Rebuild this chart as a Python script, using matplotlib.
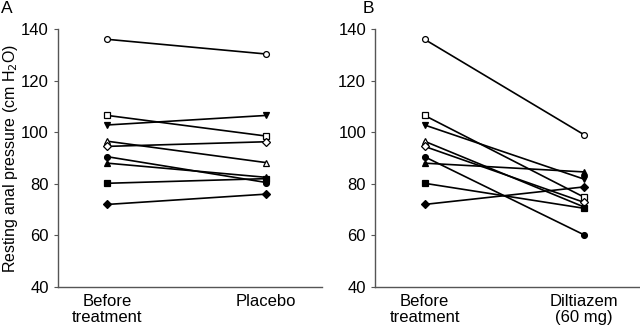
import matplotlib
matplotlib.use("Agg")
import matplotlib.pyplot as plt

plt.rcParams["font.family"] = ["Liberation Sans", "DejaVu Sans"]

# marker per subject: (marker, filled)
markers = [("o", False), ("s", False), ("v", True), ("^", False), ("D", False),
           ("o", True), ("^", True), ("s", True), ("D", True)]
before = [136, 106.5, 102.8, 96.5, 94.5, 90.5, 88, 80.2, 72]
placebo = [130.3, 98.5, 106.5, 88.2, 96.3, 80.5, 82.5, 82.0, 76]
diltiazem = [99, 74.8, 81.8, 71.0, 72.8, 60.2, 84.6, 70.5, 78.8]

labels_a = ["Before\ntreatment", "Placebo"]
labels_b = ["Before\ntreatment", "Diltiazem\n(60 mg)"]
yticks = [40, 60, 80, 100, 120, 140]

fig = plt.figure(figsize=(6.4, 3.28), dpi=100)
ax_a = fig.add_axes([0.0906, 0.125, 0.4125, 0.7866])
ax_b = fig.add_axes([0.586, 0.125, 0.414, 0.7866])


def draw(ax, after, xlabels):
    for (m, filled), y0, y1 in zip(markers, before, after):
        ms = 4.2 if m in ("o", "s") else 4.6
        if m == "D":
            ms = 3.6
        ax.plot([0, 1], [y0, y1], color="black", lw=1.2,
                marker=m, markersize=ms, markeredgewidth=0.9,
                markeredgecolor="black",
                markerfacecolor="black" if filled else "white", zorder=3)
    ax.set_xlim(-0.31, 1.35)
    ax.set_ylim(40, 140)
    ax.set_yticks(yticks)
    ax.set_xticks([0, 1])
    ax.set_xticklabels(xlabels, fontsize=12, linespacing=1.05)
    ax.tick_params(axis="x", length=0, pad=5)
    ax.tick_params(axis="y", length=3, width=0.8, labelsize=12, color="#555555")
    for s in ("top", "right"):
        ax.spines[s].set_visible(False)
    for s in ("left", "bottom"):
        ax.spines[s].set_color("#555555")
        ax.spines[s].set_linewidth(1.0)


draw(ax_a, placebo, labels_a)
draw(ax_b, diltiazem, labels_b)

ax_a.set_ylabel("Resting anal pressure (cm H$_2$O)", fontsize=11.5)
ax_a.yaxis.set_label_coords(-0.142, 0.5)
fig.text(0.002, 0.998, "A", fontsize=12.5, va="top", ha="left")
fig.text(0.567, 0.998, "B", fontsize=12.5, va="top", ha="left")

fig.savefig("out.png", dpi=100)
